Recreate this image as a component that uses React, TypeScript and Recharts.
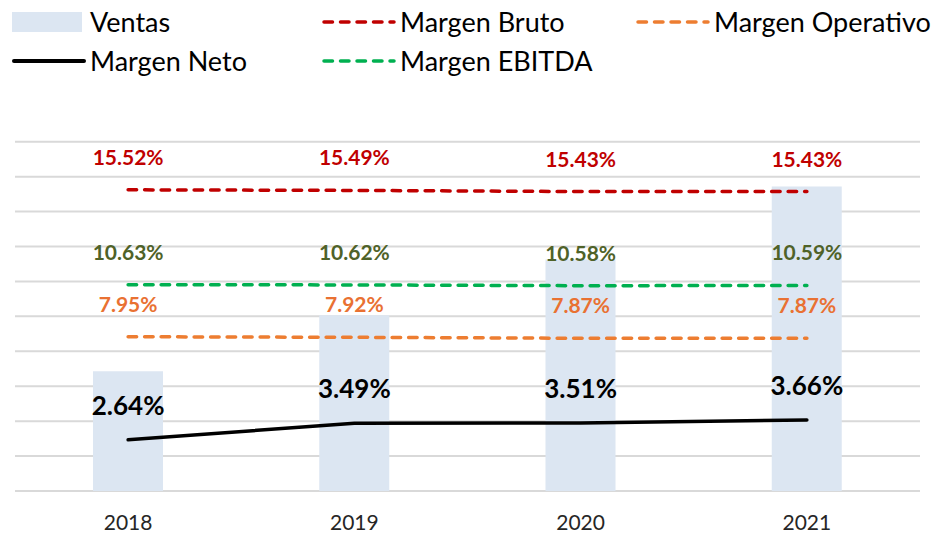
import React from 'react';
import { ComposedChart, Bar, Line, XAxis, YAxis, CartesianGrid, LabelList, Legend } from 'recharts';

const years = ['2018', '2019', '2020', '2021'];
const ventas = [120, 176, 232, 305];
const margenBruto = [15.52, 15.49, 15.43, 15.43];
const margenEbitda = [10.63, 10.62, 10.58, 10.59];
const margenOperativo = [7.95, 7.92, 7.87, 7.87];
const margenNeto = [2.64, 3.49, 3.51, 3.66];
const gridTicks = [0, 35, 70, 105, 140, 175, 210, 245, 280, 315, 350];

const data = years.map((year, i) => ({
  year,
  ventas: ventas[i],
  bruto: margenBruto[i],
  ebitda: margenEbitda[i],
  operativo: margenOperativo[i],
  neto: margenNeto[i],
}));

const FONT = 'Lato, "Open Sans", sans-serif';
const fmt = (v: any) => `${Number(v).toFixed(2)}%`;

const legendItems = [
  { label: 'Ventas', kind: 'rect', color: '#DCE6F2', x: 12, y: 22 },
  { label: 'Margen Bruto', kind: 'dash', color: '#C00000', x: 322, y: 22 },
  { label: 'Margen Operativo', kind: 'dash', color: '#ED7D31', x: 636, y: 22 },
  { label: 'Margen Neto', kind: 'solid', color: '#000000', x: 12, y: 61 },
  { label: 'Margen EBITDA', kind: 'dash', color: '#00B050', x: 322, y: 61 },
];

const renderLegend = () => (
  <svg width={935} height={80} style={{ display: 'block' }}>
    {legendItems.map((it) => (
      <g key={it.label}>
        {it.kind === 'rect' ? (
          <rect x={it.x} y={it.y - 10} width={70} height={20} fill={it.color} />
        ) : (
          <line
            x1={it.x + 2}
            x2={it.x + 72}
            y1={it.y}
            y2={it.y}
            stroke={it.color}
            strokeWidth={it.kind === 'solid' ? 4 : 3.5}
            strokeLinecap="round"
            strokeDasharray={it.kind === 'dash' ? '8.5 8' : undefined}
          />
        )}
        <text
          x={it.x + 78}
          y={it.y}
          dy="0.36em"
          fontSize={27}
          fontFamily={FONT}
          fill="#000000"
        >
          {it.label}
        </text>
      </g>
    ))}
  </svg>
);

export default function App() {
  return (
    <div style={{ position: 'absolute', left: 0, top: 0, width: 935, height: 534, background: '#ffffff' }}>
      <ComposedChart
        width={935}
        height={534}
        data={data}
        margin={{ top: 141.7, right: 15, bottom: 0, left: 15 }}
        style={{ fontFamily: FONT }}
      >
        <CartesianGrid yAxisId="bar" vertical={false} stroke="#D9D9D9" strokeWidth={2} />
        <XAxis
          dataKey="year"
          height={43}
          axisLine={false}
          tickLine={false}
          tickMargin={18}
          tick={{ fontSize: 21, fill: '#262626', fontFamily: FONT }}
        />
        <YAxis yAxisId="bar" hide domain={[0, 350]} ticks={gridTicks} />
        <YAxis yAxisId="pct" hide domain={[0, 18]} />
        <Legend
          layout="vertical"
          verticalAlign="middle"
          align="center"
          content={renderLegend}
          wrapperStyle={{ position: 'absolute', top: 0, left: 0, width: 935, height: 80 }}
        />
        <Bar yAxisId="bar" dataKey="ventas" name="Ventas" fill="#DCE6F2" barSize={70} isAnimationActive={false} />
        <Line
          yAxisId="pct"
          dataKey="bruto"
          name="Margen Bruto"
          stroke="#C00000"
          strokeWidth={3.5}
          strokeDasharray="8.5 8"
          strokeLinecap="round"
          dot={false}
          activeDot={false}
          isAnimationActive={false}
        >
          <LabelList dataKey="bruto" position="top" offset={25} formatter={fmt} fill="#C00000" fontSize={21} fontWeight={700} fontFamily={FONT} />
        </Line>
        <Line
          yAxisId="pct"
          dataKey="ebitda"
          name="Margen EBITDA"
          stroke="#00B050"
          strokeWidth={3.5}
          strokeDasharray="8.5 8"
          strokeLinecap="round"
          dot={false}
          activeDot={false}
          isAnimationActive={false}
        >
          <LabelList dataKey="ebitda" position="top" offset={25} formatter={fmt} fill="#4F6228" fontSize={21} fontWeight={700} fontFamily={FONT} />
        </Line>
        <Line
          yAxisId="pct"
          dataKey="operativo"
          name="Margen Operativo"
          stroke="#ED7D31"
          strokeWidth={3.5}
          strokeDasharray="8.5 8"
          strokeLinecap="round"
          dot={false}
          activeDot={false}
          isAnimationActive={false}
        >
          <LabelList dataKey="operativo" position="top" offset={25} formatter={fmt} fill="#E97132" fontSize={21} fontWeight={700} fontFamily={FONT} />
        </Line>
        <Line
          yAxisId="pct"
          dataKey="neto"
          name="Margen Neto"
          stroke="#000000"
          strokeWidth={3.5}
          strokeLinecap="round"
          dot={false}
          activeDot={false}
          isAnimationActive={false}
        >
          <LabelList dataKey="neto" position="top" offset={25} formatter={fmt} fill="#000000" fontSize={26} fontWeight={700} fontFamily={FONT} />
        </Line>
      </ComposedChart>
    </div>
  );
}
